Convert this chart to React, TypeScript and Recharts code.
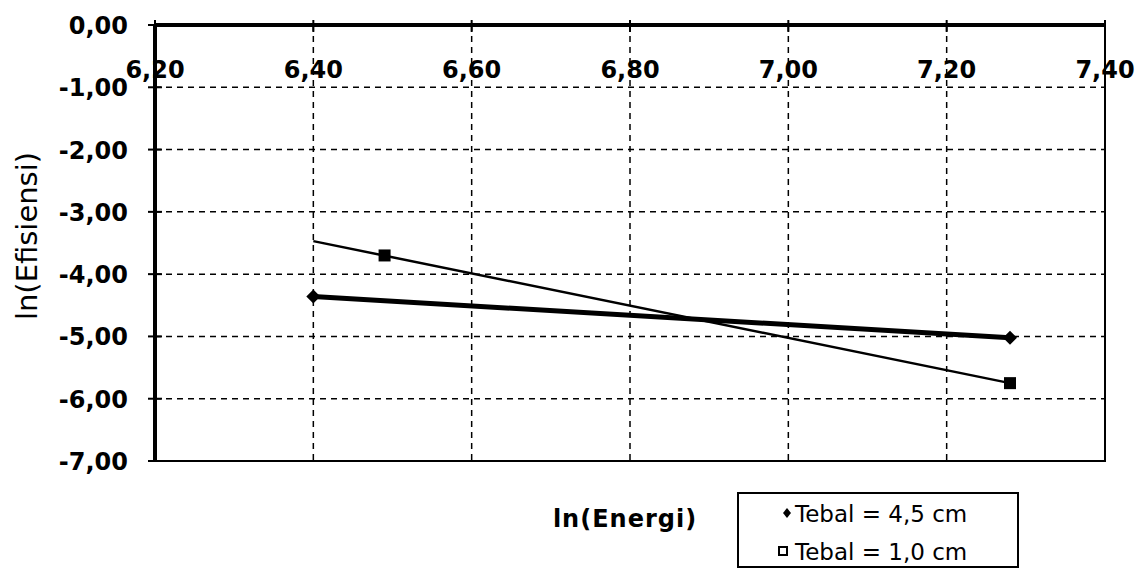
import {
  ComposedChart,
  Line,
  Scatter,
  XAxis,
  YAxis,
  CartesianGrid,
  ReferenceArea,
  Legend,
} from "recharts";

const xTicks = [6.2, 6.4, 6.6, 6.8, 7.0, 7.2, 7.4];
const yTicks = [0, -1, -2, -3, -4, -5, -6, -7];

// Tebal = 4,5 cm
const tebal45X = [6.4, 7.28];
const tebal45Y = [-4.36, -5.02];

// Tebal = 1,0 cm : marker points and the straight line through them
const tebal10X = [6.49, 7.28];
const tebal10Y = [-3.7, -5.75];
const tebal10LineX = [6.4, 7.28];
const tebal10LineY = [-3.47, -5.75];

const seriesNames = ["Tebal = 4,5 cm", "Tebal = 1,0 cm"];

const toPoints = (xs: number[], ys: number[]) => xs.map((x, i) => ({ x, y: ys[i] }));

const tebal45Points = toPoints(tebal45X, tebal45Y);
const tebal10Points = toPoints(tebal10X, tebal10Y);
const tebal10Line = toPoints(tebal10LineX, tebal10LineY);

const fmt = (v: number) => v.toFixed(2).replace(".", ",");

const tickFont = {
  fontFamily: "'DejaVu Sans', sans-serif",
  fontSize: 24,
  fontWeight: 700,
  fill: "#000",
};

const XTick = (props: any) => {
  const { x, y, payload } = props;
  return (
    <g>
      <line x1={x} x2={x} y1={y - 5} y2={y + 7} stroke="#000" strokeWidth={2} />
      <text x={x} y={y + 53} textAnchor="middle" {...tickFont}>
        {fmt(payload.value)}
      </text>
    </g>
  );
};

const YTick = (props: any) => {
  const { x, y, payload } = props;
  return (
    <g>
      <line x1={x - 7} x2={x + 7} y1={y} y2={y} stroke="#000" strokeWidth={2} />
      <text x={x - 27} y={y + 9} textAnchor="end" {...tickFont}>
        {fmt(payload.value)}
      </text>
    </g>
  );
};

const YTitle = (props: any) => {
  const { viewBox } = props;
  const cx = viewBox.x + 22;
  const cy = viewBox.y + viewBox.height / 2 - 7;
  return (
    <text
      x={cx}
      y={cy}
      transform={`rotate(-90 ${cx} ${cy})`}
      textAnchor="middle"
      dominantBaseline="central"
      fontFamily="'DejaVu Sans', sans-serif"
      fontSize={29}
      fill="#000"
    >
      ln(Efisiensi)
    </text>
  );
};

const Diamond = (props: any) => {
  const { cx, cy } = props;
  const r = 7;
  return (
    <path
      d={`M${cx},${cy - r} L${cx + r},${cy} L${cx},${cy + r} L${cx - r},${cy} Z`}
      fill="#000"
    />
  );
};

const Square = (props: any) => {
  const { cx, cy } = props;
  return <rect x={cx - 6} y={cy - 6} width={12} height={12} fill="#000" />;
};

const LegendBox = () => (
  <svg width={282} height={76}>
    <rect x={1} y={1} width={280} height={74} fill="#fff" stroke="#000" strokeWidth={2} />
    <path d="M50,16 L54,21 L50,26 L46,21 Z" fill="#000" />
    <rect x={42} y={55} width={8} height={8} fill="none" stroke="#000" strokeWidth={2} />
    {seriesNames.map((name, i) => (
      <text
        key={name}
        x={58}
        y={30 + i * 38}
        fontFamily="'DejaVu Sans', sans-serif"
        fontSize={23}
        fill="#000"
      >
        {name}
      </text>
    ))}
  </svg>
);

export default function App() {
  return (
    <div style={{ position: "absolute", left: 0, top: 0 }}>
      <ComposedChart
        width={1148}
        height={580}
        margin={{ top: 20, right: 43, bottom: 49, left: 5 }}
      >
        <CartesianGrid stroke="#000" strokeDasharray="6 5" strokeWidth={1.5} />
        <ReferenceArea
          x1={6.2}
          x2={7.4}
          y1={-7}
          y2={0}
          fill="none"
          fillOpacity={0}
          stroke="#000"
          strokeWidth={2}
        />
        <XAxis
          dataKey="x"
          type="number"
          orientation="top"
          domain={[6.2, 7.4]}
          ticks={xTicks}
          height={5}
          tickSize={0}
          tickMargin={0}
          tickLine={false}
          axisLine={{ stroke: "#000", strokeWidth: 4 }}
          tick={<XTick />}
          interval={0}
        />
        <XAxis
          xAxisId="title"
          dataKey="x"
          type="number"
          orientation="bottom"
          domain={[6.2, 7.4]}
          height={70}
          tick={false}
          tickLine={false}
          axisLine={false}
          label={{
            value: "ln(Energi)",
            position: "insideBottom",
            offset: 4,
            fill: "#000",
            fontFamily: "'DejaVu Sans', sans-serif",
            fontSize: 24,
            fontWeight: 700,
            letterSpacing: 1,
            dx: -5,
          }}
        />
        <YAxis
          dataKey="y"
          type="number"
          domain={[-7, 0]}
          ticks={yTicks}
          width={150}
          tickSize={0}
          tickMargin={0}
          tickLine={false}
          axisLine={{ stroke: "#000", strokeWidth: 4 }}
          tick={<YTick />}
          interval={0}
          label={<YTitle />}
        />
        <Legend
          layout="horizontal"
          verticalAlign="middle"
          align="center"
          content={<LegendBox />}
          wrapperStyle={{ left: 737, top: 492, width: 282, height: 76 }}
        />
        <Line
          data={tebal10Line}
          dataKey="y"
          type="linear"
          stroke="#000"
          strokeWidth={2.5}
          dot={false}
          legendType="none"
          isAnimationActive={false}
        />
        <Line
          data={tebal45Points}
          dataKey="y"
          type="linear"
          stroke="#000"
          strokeWidth={5}
          dot={false}
          legendType="none"
          isAnimationActive={false}
        />
        <Scatter
          name={seriesNames[0]}
          data={tebal45Points}
          dataKey="y"
          shape={<Diamond />}
          isAnimationActive={false}
        />
        <Scatter
          name={seriesNames[1]}
          data={tebal10Points}
          dataKey="y"
          shape={<Square />}
          isAnimationActive={false}
        />
      </ComposedChart>
    </div>
  );
}
